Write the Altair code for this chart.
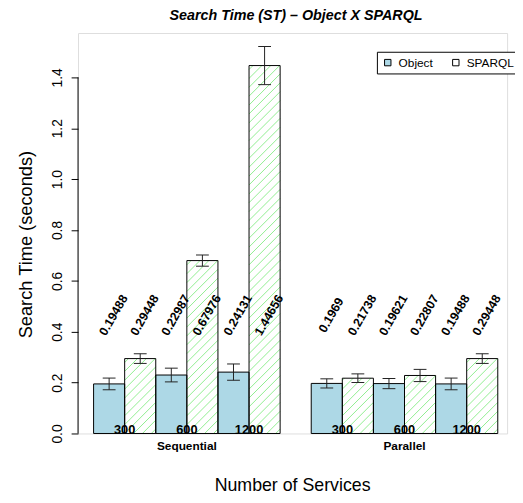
import altair as alt
import pandas as pd
import numpy as np

# ---------------- data ----------------
modes = ["Sequential", "Parallel"]
services = ["300", "600", "1200"]
series = ["Object", "SPARQL"]

seq_object = [0.19488, 0.22987, 0.24131]
seq_sparql = [0.29448, 0.67976, 1.44656]
par_object = [0.1969, 0.19621, 0.19488]
par_sparql = [0.21738, 0.22807, 0.29448]

seq_object_err = [0.023, 0.027, 0.032]
seq_sparql_err = [0.019, 0.022, 0.075]
par_object_err = [0.018, 0.020, 0.023]
par_sparql_err = [0.017, 0.024, 0.019]

y_ticks = [0.0, 0.2, 0.4, 0.6, 0.8, 1.0, 1.2, 1.4]

# ---------------- layout / style ----------------
W, H = 435, 406
X_DOM = [-0.5, 13.3]
Y_DOM = [0, 1.5745]
FONT = "Liberation Sans"
OBJ_COL = "#ADD8E6"
HATCH_COL = "#90EE90"
LABEL_Y = 0.435
HATCH_SPACING_PX = 9

values = {
    ("Sequential", "Object"): (seq_object, seq_object_err),
    ("Sequential", "SPARQL"): (seq_sparql, seq_sparql_err),
    ("Parallel", "Object"): (par_object, par_object_err),
    ("Parallel", "SPARQL"): (par_sparql, par_sparql_err),
}

rows = []
for g, mode in enumerate(modes):
    for i, svc in enumerate(services):
        for j, s in enumerate(series):
            vals, errs = values[(mode, s)]
            left = g * 7 + i * 2 + j
            rows.append(dict(mode=mode, service=svc, series=s,
                             left=left, right=left + 1, center=left + 0.5,
                             value=vals[i], lo=vals[i] - errs[i], hi=vals[i] + errs[i],
                             label=str(vals[i])))
df = pd.DataFrame(rows)

svc_rows = []
for g, mode in enumerate(modes):
    for i, svc in enumerate(services):
        svc_rows.append(dict(service=svc, pos=g * 7 + i * 2 + 1))
svc_df = pd.DataFrame(svc_rows)

grp_df = pd.DataFrame(dict(mode=modes, pos=[g * 7 + 3 for g in range(len(modes))]))

# hatch lines (fill pattern) for SPARQL bars, 45 degrees in pixel space
px_x = W / (X_DOM[1] - X_DOM[0])
px_y = H / (Y_DOM[1] - Y_DOM[0])
k = px_x / px_y
s = HATCH_SPACING_PX / px_y
hatch = []
for r in rows:
    if r["series"] != "SPARQL":
        continue
    L, R, V = r["left"], r["right"], r["value"]
    j0 = int(np.floor(-k / s)) - 1
    j1 = int(np.ceil(V / s)) + 1
    for jj in range(j0, j1 + 1):
        c = jj * s
        xs = L + max(0.0, -c / k)
        xe = min(R, L + (V - c) / k)
        if xe <= xs:
            continue
        hatch.append(dict(x=xs, x2=xe, y=c + k * (xs - L), y2=c + k * (xe - L)))
hatch_df = pd.DataFrame(hatch)

xscale = alt.Scale(domain=X_DOM, nice=False, zero=False)
yscale = alt.Scale(domain=Y_DOM, nice=False, zero=False)

x_enc = alt.X("left:Q", scale=xscale,
              axis=alt.Axis(labels=False, ticks=False, domain=False, grid=False,
                            title="Number of Services", titleFontSize=18,
                            titleFontWeight="normal", titleColor="black",
                            titleX=217, titleY=58, titleAlign="center",
                            titleBaseline="alphabetic", titleFont=FONT))
y_enc = alt.Y("value:Q", scale=yscale,
              axis=alt.Axis(values=y_ticks, format=".1f", labelAngle=270,
                            labelAlign="center", labelBaseline="alphabetic",
                            labelPadding=10, tickSize=7, tickColor="black",
                            tickWidth=1, domain=False, grid=False,
                            labelFontSize=14, labelColor="black", labelFont=FONT,
                            title="Search Time (seconds)", titleX=-47.5, titleY=214,
                            titleAngle=270, titleAlign="center",
                            titleBaseline="alphabetic", titleFontSize=18.5,
                            titleFontWeight="normal", titleColor="black",
                            titleFont=FONT))

bars = alt.Chart(df).mark_rect(opacity=1, strokeWidth=0).encode(
    x=x_enc, x2="right:Q", y=y_enc, y2=alt.datum(0),
    fill=alt.Fill("series:N",
                  scale=alt.Scale(domain=series, range=[OBJ_COL, "#FFFFFF"]),
                  legend=alt.Legend(orient="none", legendX=303, legendY=19,
                                    direction="horizontal", title=None,
                                    strokeColor="black", padding=5,
                                    fillColor="white", symbolType="square",
                                    symbolSize=42, symbolStrokeColor="black",
                                    symbolStrokeWidth=1, symbolOpacity=1,
                                    labelFontSize=12, labelOffset=5,
                                    labelFont=FONT, labelColor="black",
                                    columnPadding=17)),
)

hatch_layer = alt.Chart(hatch_df).mark_rule(color=HATCH_COL, strokeWidth=1, opacity=1).encode(
    x=alt.X("x:Q", scale=xscale), x2="x2:Q",
    y=alt.Y("y:Q", scale=yscale), y2="y2:Q",
)

outline = alt.Chart(df).mark_rect(fillOpacity=0, stroke="black", strokeWidth=1, opacity=1).encode(
    x=alt.X("left:Q", scale=xscale), x2="right:Q",
    y=alt.Y("value:Q", scale=yscale), y2=alt.datum(0),
)

err_rule = alt.Chart(df).mark_rule(color="#222", strokeWidth=1, opacity=1).encode(
    x=alt.X("center:Q", scale=xscale),
    y=alt.Y("lo:Q", scale=yscale), y2="hi:Q",
)
err_lo = alt.Chart(df).mark_tick(orient="horizontal", size=13, thickness=1,
                                 color="#222", opacity=1).encode(
    x=alt.X("center:Q", scale=xscale), y=alt.Y("lo:Q", scale=yscale))
err_hi = alt.Chart(df).mark_tick(orient="horizontal", size=13, thickness=1,
                                 color="#222", opacity=1).encode(
    x=alt.X("center:Q", scale=xscale), y=alt.Y("hi:Q", scale=yscale))

val_text = alt.Chart(df).mark_text(angle=300, fontWeight="bold", fontSize=12.5,
                                   font=FONT, align="center", baseline="middle",
                                   dx=9, color="black").encode(
    x=alt.X("center:Q", scale=xscale), y=alt.datum(LABEL_Y), text="label:N")

svc_text = alt.Chart(svc_df).mark_text(fontWeight="bold", fontSize=13, font=FONT,
                                       align="center", baseline="alphabetic",
                                       dy=1, color="black").encode(
    x=alt.X("pos:Q", scale=xscale), y=alt.datum(0), text="service:N")

grp_text = alt.Chart(grp_df).mark_text(fontWeight="bold", fontSize=12, font=FONT,
                                       align="center", baseline="alphabetic",
                                       dy=17, color="black").encode(
    x=alt.X("pos:Q", scale=xscale), y=alt.datum(0), text="mode:N")

axis_line = alt.Chart(pd.DataFrame({"a": [0]})).mark_rule(color="black", strokeWidth=1).encode(
    x=alt.value(0), y=alt.datum(0), y2=alt.datum(1.4))

chart = alt.layer(
    bars, hatch_layer, outline, err_rule, err_lo, err_hi,
    val_text, svc_text, grp_text, axis_line
).properties(
    width=W, height=H,
    title=alt.Title("Search Time (ST) – Object X SPARQL", fontSize=14.5,
                    fontWeight="bold", fontStyle="italic", anchor="middle",
                    frame="group", offset=12, baseline="alphabetic", dx=3.5,
                    dy=13, font=FONT, color="black"),
    autosize=alt.AutoSizeParams(type="none"),
    padding={"left": 71, "top": 22, "right": 8, "bottom": 59},
).configure_view(stroke=None).configure(font=FONT)

chart.save("out.html", embed_options={"renderer": "svg", "actions": False})
